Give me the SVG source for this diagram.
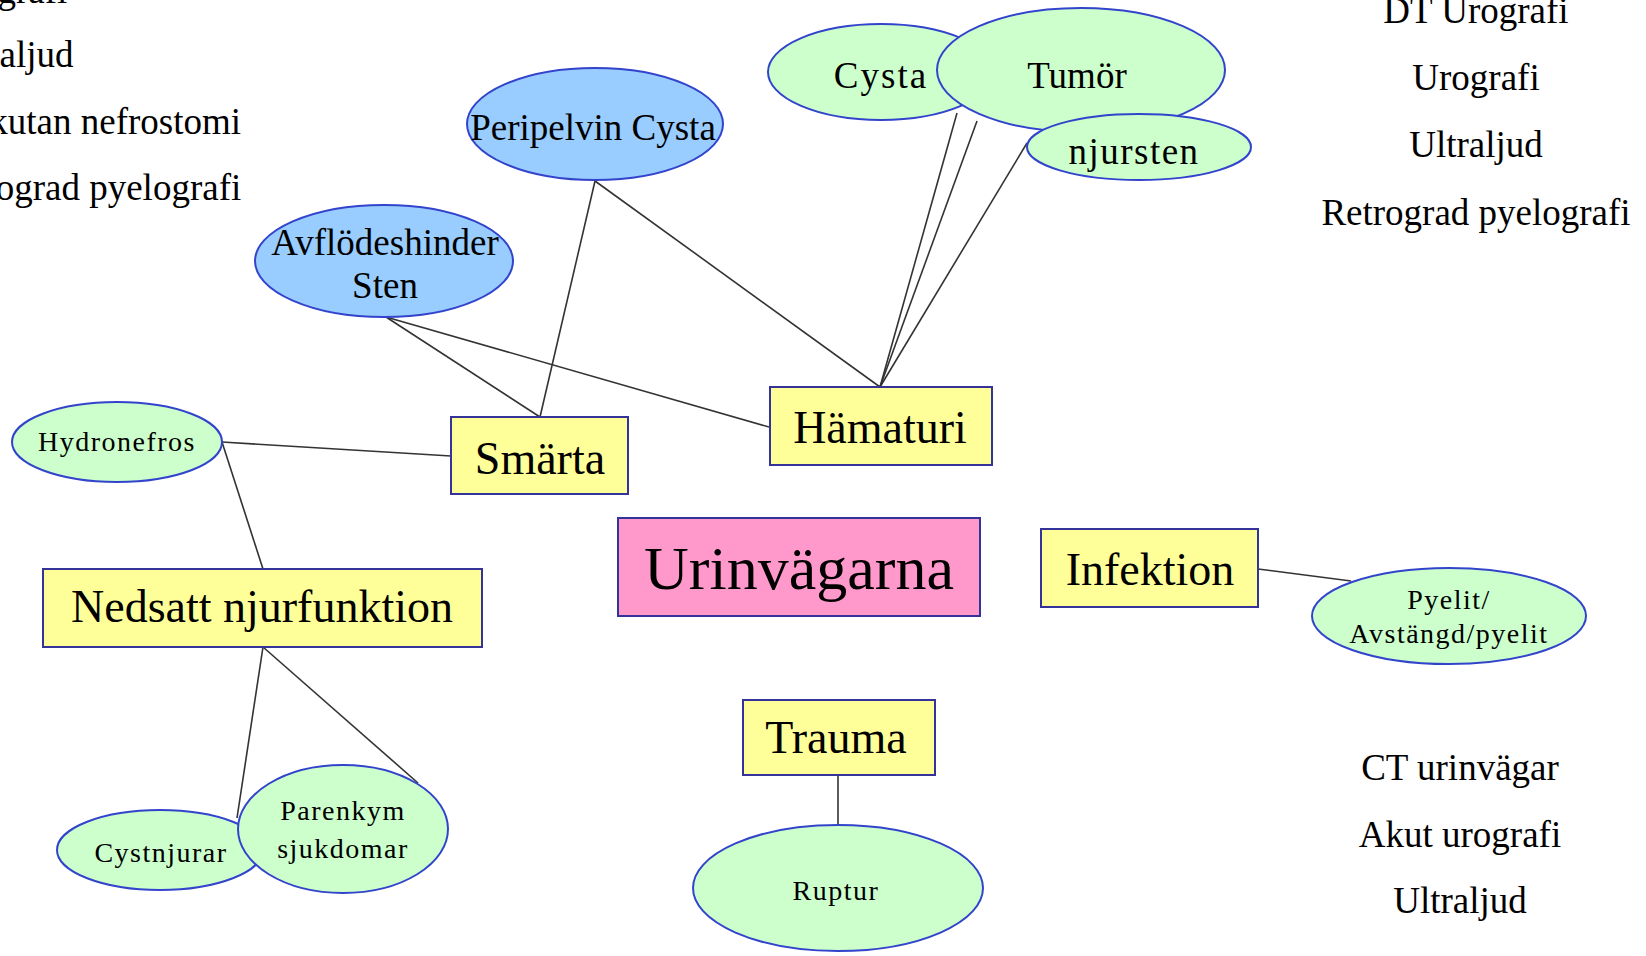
<svg xmlns="http://www.w3.org/2000/svg" width="1646" height="956" viewBox="0 0 1646 956">
<style>
.box{fill:#ffff99;stroke:#333399;stroke-width:2}
.pink{fill:#ff99cc;stroke:#333399;stroke-width:2}
.green{fill:#ccffcc;stroke:#3344cc;stroke-width:2}
.blue{fill:#99ccff;stroke:#3344cc;stroke-width:2}
.t{font-family:"Liberation Serif","Times New Roman",serif;fill:#000;text-anchor:middle}
.bt{font-size:46px}
.et{font-size:37px}
.st{font-size:28px;letter-spacing:1.5px}
.list{font-family:"Liberation Serif","Times New Roman",serif;font-size:37px;fill:#000}
.conn line{stroke:#333;stroke-width:1.6}
</style>
<rect width="1646" height="956" fill="#fff"/>
<g id="connectors" class="conn">
<line x1="222" y1="442" x2="451" y2="456"/>
<line x1="222" y1="442" x2="263" y2="569"/>
<line x1="386" y1="317" x2="540" y2="417"/>
<line x1="386" y1="317" x2="769" y2="427"/>
<line x1="595" y1="181" x2="540" y2="417"/>
<line x1="595" y1="181" x2="880" y2="387"/>
<line x1="957" y1="113" x2="880" y2="387"/>
<line x1="977" y1="121" x2="880" y2="387"/>
<line x1="1027" y1="143" x2="880" y2="387"/>
<line x1="263" y1="647" x2="237" y2="818"/>
<line x1="263" y1="647" x2="418" y2="783"/>
<line x1="1258" y1="569" x2="1351" y2="581"/>
<line x1="838" y1="775" x2="838" y2="825"/>
</g>
<g id="list-left">
<text class="list" x="-60" y="3">Urografi</text>
<text class="list" x="-60" y="67">Ultraljud</text>
<text class="list" x="-60" y="134">Perkutan nefrostomi</text>
<text class="list" x="-68" y="200">Retrograd pyelografi</text>
</g>
<g id="list-top-right" class="t">
<text class="et" x="1476" y="23">DT Urografi</text>
<text class="et" x="1476" y="90">Urografi</text>
<text class="et" x="1476" y="157">Ultraljud</text>
<text class="et" x="1476" y="225">Retrograd pyelografi</text>
</g>
<g id="list-bottom-right" class="t">
<text class="et" x="1460" y="780">CT urinvägar</text>
<text class="et" x="1460" y="847">Akut urografi</text>
<text class="et" x="1460" y="913">Ultraljud</text>
</g>
<g id="cysta"><ellipse class="green" cx="881" cy="72" rx="113" ry="48"/><text class="t et" x="881" y="88" letter-spacing="2">Cysta</text></g>
<g id="tumor"><ellipse class="green" cx="1081" cy="70" rx="144" ry="62"/><text class="t et" x="1077" y="88">Tumör</text></g>
<g id="njursten"><ellipse class="green" cx="1139" cy="147" rx="112" ry="33"/><text class="t et" x="1134" y="164" letter-spacing="1.5">njursten</text></g>
<g id="peripelvin"><ellipse class="blue" cx="595" cy="124" rx="128" ry="56"/><text class="t et" x="593" y="140">Peripelvin Cysta</text></g>
<g id="avflodeshinder"><ellipse class="blue" cx="384" cy="261" rx="129" ry="56"/><text class="t et" x="385" y="255">Avflödeshinder</text><text class="t et" x="385" y="298">Sten</text></g>
<g id="hydronefros"><ellipse class="green" cx="117" cy="442" rx="105" ry="40"/><text class="t st" x="117" y="451">Hydronefros</text></g>
<g id="smarta"><rect class="box" x="451" y="417" width="177" height="77"/><text class="t bt" x="540" y="474">Smärta</text></g>
<g id="hamaturi"><rect class="box" x="770" y="387" width="222" height="78"/><text class="t bt" x="880" y="443">Hämaturi</text></g>
<g id="urinvagarna"><rect class="pink" x="618" y="518" width="362" height="98"/><text class="t" x="799" y="589" font-size="62" fill="#1a0010">Urinvägarna</text></g>
<g id="nedsatt"><rect class="box" x="43" y="569" width="439" height="78"/><text class="t bt" x="262" y="622">Nedsatt njurfunktion</text></g>
<g id="infektion"><rect class="box" x="1041" y="529" width="217" height="78"/><text class="t bt" x="1150" y="585">Infektion</text></g>
<g id="pyelit"><ellipse class="green" cx="1449" cy="616" rx="137" ry="48"/><text class="t st" x="1449" y="609">Pyelit/</text><text class="t st" x="1449" y="643">Avstängd/pyelit</text></g>
<g id="trauma"><rect class="box" x="743" y="700" width="192" height="75"/><text class="t bt" x="836" y="753">Trauma</text></g>
<g id="ruptur"><ellipse class="green" cx="838" cy="888" rx="145" ry="63"/><text class="t st" x="836" y="900">Ruptur</text></g>
<g id="cystnjurar"><ellipse class="green" cx="160" cy="850" rx="103" ry="40"/><text class="t st" x="161" y="862">Cystnjurar</text></g>
<g id="parenkym"><ellipse class="green" cx="343" cy="829" rx="105" ry="64"/><text class="t st" x="343" y="820">Parenkym</text><text class="t st" x="343" y="858">sjukdomar</text></g>
</svg>
